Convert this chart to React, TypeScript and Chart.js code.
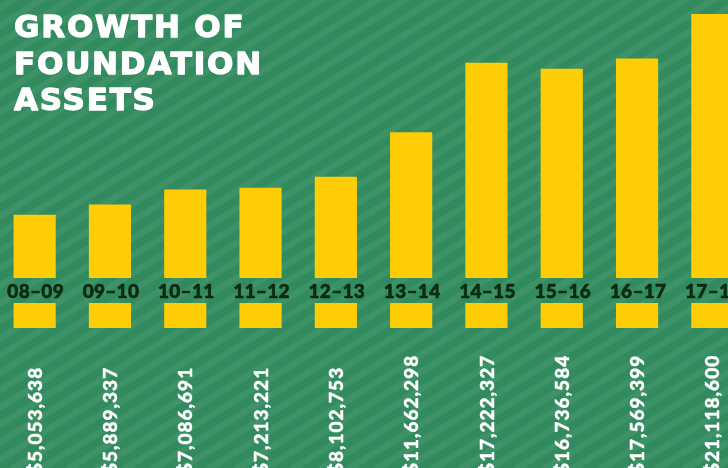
import React, { useEffect, useRef } from "react";
import { Chart, registerables } from "chart.js";

Chart.register(...registerables);

const categories = ["08–09", "09–10", "10–11", "11–12", "12–13", "13–14", "14–15", "15–16", "16–17", "17–18"];
const assets = [5053638, 5889337, 7086691, 7213221, 8102753, 11662298, 17222327, 16736584, 17569399, 21118600];
const valueLabels = ["$5,053,638", "$5,889,337", "$7,086,691", "$7,213,221", "$8,102,753", "$11,662,298", "$17,222,327", "$16,736,584", "$17,569,399", "$21,118,600"];
const titleLines = ["GROWTH OF", "FOUNDATION", "ASSETS"];
const stubTop = -2000000;
const stubBottom = -4000000;
const labelValue = -1000000;
const yMin = -15200000;
const yMax = 22240000;

const BG = "#328b5e";
const STRIPE = "#3e9268";
const BAR = "#ffcd05";
const LABEL = "#0d2a12";

function heavyText(ctx: any, text: string, x: number, y: number, color: string, weight: number) {
  ctx.fillStyle = color;
  ctx.strokeStyle = color;
  ctx.lineWidth = weight;
  ctx.lineJoin = "round";
  ctx.fillText(text, x, y);
  if (weight > 0) ctx.strokeText(text, x, y);
}

const decorPlugin = {
  id: "decor",
  beforeDraw(chart: any) {
    const { ctx, width, height } = chart;
    ctx.save();
    ctx.fillStyle = BG;
    ctx.fillRect(0, 0, width, height);
    ctx.strokeStyle = STRIPE;
    ctx.lineWidth = 6.5;
    const slope = 0.62;
    const run = height / slope;
    for (let c = -run - 28; c < width + 28; c += 28) {
      ctx.beginPath();
      ctx.moveTo(c, height + 10);
      ctx.lineTo(c + (height + 20) / slope, -10);
      ctx.stroke();
    }
    ctx.restore();
  },
  afterDraw(chart: any) {
    const { ctx, chartArea } = chart;
    const yScale = chart.scales.y;
    const meta = chart.getDatasetMeta(0);
    ctx.save();
    // title
    ctx.font = "bold 31px 'DejaVu Sans'";
    (ctx as any).letterSpacing = "1.8px";
    ctx.textAlign = "left";
    ctx.textBaseline = "alphabetic";
    const baselines = [37, 73.5, 110];
    titleLines.forEach((t, i) => heavyText(ctx, t, 17, baselines[i], "#ffffff", 1.3));
    // category labels
    ctx.font = "900 19px Lato";
    (ctx as any).letterSpacing = "0.3px";
    ctx.textAlign = "center";
    ctx.textBaseline = "middle";
    const ly = yScale.getPixelForValue(labelValue);
    meta.data.forEach((el: any, i: number) => {
      heavyText(ctx, categories[i], el.x + 1, ly + 1, LABEL, 0.6);
    });
    // value labels rotated
    ctx.font = "900 19px Lato";
    (ctx as any).letterSpacing = "1px";
    ctx.textAlign = "left";
    ctx.textBaseline = "middle";
    meta.data.forEach((el: any, i: number) => {
      ctx.save();
      ctx.translate(el.x + 1, chartArea.bottom + 6);
      ctx.rotate(-Math.PI / 2);
      heavyText(ctx, valueLabels[i], 0, 0, "#ffffff", 0.4);
      ctx.restore();
    });
    ctx.restore();
  },
};

export default function App() {
  const ref = useRef<HTMLCanvasElement>(null);
  useEffect(() => {
    document.body.style.margin = "0";
    document.body.style.overflow = "hidden";
    const chart = new Chart(ref.current as HTMLCanvasElement, {
      type: "bar",
      data: {
        labels: categories,
        datasets: [
          {
            data: assets,
            backgroundColor: BAR,
            barPercentage: 0.56,
            categoryPercentage: 1,
            grouped: false,
          } as any,
          {
            data: categories.map(() => [stubBottom, stubTop]),
            backgroundColor: BAR,
            barPercentage: 0.56,
            categoryPercentage: 1,
            grouped: false,
          } as any,
        ],
      },
      options: {
        animation: false,
        responsive: true,
        maintainAspectRatio: false,
        layout: { padding: 0 },
        plugins: { legend: { display: false }, tooltip: { enabled: false }, title: { display: false } },
        scales: {
          x: { display: false },
          y: { display: false, min: yMin, max: yMax },
        },
      },
      plugins: [decorPlugin],
    });
    return () => chart.destroy();
  }, []);
  return (
    <div style={{ position: "fixed", left: -3, top: 0, width: 753, height: 468 }}>
      <canvas ref={ref} />
    </div>
  );
}
